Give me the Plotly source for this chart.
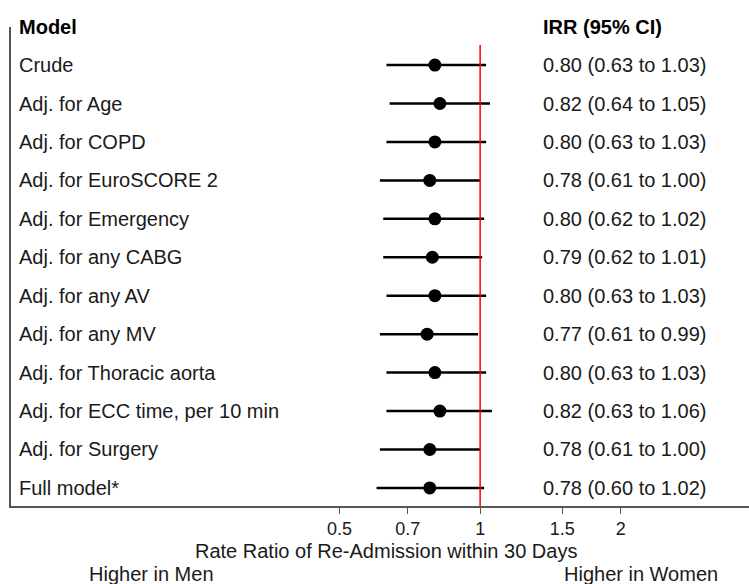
import plotly.graph_objects as go

models = ["Crude", "Adj. for Age", "Adj. for COPD", "Adj. for EuroSCORE 2",
          "Adj. for Emergency", "Adj. for any CABG", "Adj. for any AV",
          "Adj. for any MV", "Adj. for Thoracic aorta",
          "Adj. for ECC time, per 10 min", "Adj. for Surgery", "Full model*"]
irr = [0.80, 0.82, 0.80, 0.78, 0.80, 0.79, 0.80, 0.77, 0.80, 0.82, 0.78, 0.78]
lower = [0.63, 0.64, 0.63, 0.61, 0.62, 0.62, 0.63, 0.61, 0.63, 0.63, 0.61, 0.60]
upper = [1.03, 1.05, 1.03, 1.00, 1.02, 1.01, 1.03, 0.99, 1.03, 1.06, 1.00, 1.02]
tick_vals = [0.5, 0.7, 1, 1.5, 2]
tick_text = ["0.5", "0.7", "1", "1.5", "2"]

n = len(models)
ypos = [n - 1 - i for i in range(n)]  # Crude at top, Full model at bottom

FONT = "Liberation Sans, Arial, sans-serif"
TXT = "#1a1a1a"
FS = 20

fig = go.Figure()

# CI lines
lx, ly = [], []
for lo, hi, y in zip(lower, upper, ypos):
    lx += [lo, hi, None]
    ly += [y, y, None]
fig.add_trace(go.Scatter(x=lx, y=ly, mode="lines",
                         line=dict(color="black", width=2.5),
                         hoverinfo="skip", showlegend=False))
# point estimates
fig.add_trace(go.Scatter(x=irr, y=ypos, mode="markers",
                         marker=dict(color="black", size=13),
                         showlegend=False))

# reference line at 1
fig.add_shape(type="line", xref="x", yref="y", x0=1, x1=1, y0=-0.47, y1=11.52,
              line=dict(color="red", width=1.5))

ann = []
for m, v, lo, hi, y in zip(models, irr, lower, upper, ypos):
    ann.append(dict(x=0.008, xref="paper", y=y, yref="y", text=m,
                    showarrow=False, xanchor="left", yanchor="middle",
                    font=dict(size=FS, color=TXT, family=FONT)))
    ann.append(dict(x=0.718, xref="paper", y=y, yref="y",
                    text=f"{v:.2f} ({lo:.2f} to {hi:.2f})",
                    showarrow=False, xanchor="left", yanchor="middle",
                    font=dict(size=FS, color=TXT, family=FONT)))
ann.append(dict(x=0.008, xref="paper", y=1.0, yref="paper", text="<b>Model</b>",
                showarrow=False, xanchor="left", yanchor="middle",
                font=dict(size=FS, color="black", family=FONT)))
ann.append(dict(x=0.718, xref="paper", y=1.0, yref="paper", text="<b>IRR (95% CI)</b>",
                showarrow=False, xanchor="left", yanchor="middle",
                font=dict(size=FS, color="black", family=FONT)))
ann.append(dict(x=0.508, xref="paper", y=-0.094, yref="paper",
                text="Rate Ratio of Re-Admission within 30 Days",
                showarrow=False, xanchor="center", yanchor="middle",
                font=dict(size=FS, color=TXT, family=FONT)))
ann.append(dict(x=0.190, xref="paper", y=-0.141, yref="paper",
                text="Higher in Men",
                showarrow=False, xanchor="center", yanchor="middle",
                font=dict(size=FS, color=TXT, family=FONT)))
ann.append(dict(x=0.853, xref="paper", y=-0.141, yref="paper",
                text="Higher in Women",
                showarrow=False, xanchor="center", yanchor="middle",
                font=dict(size=FS, color=TXT, family=FONT)))

fig.update_layout(
    width=749, height=584,
    margin=dict(l=11, r=0, t=27, b=78),
    paper_bgcolor="white", plot_bgcolor="white",
    annotations=ann,
    xaxis=dict(type="log", range=[-1.005, 0.576], tickvals=tick_vals,
               ticktext=tick_text, ticks="outside", ticklen=6, tickwidth=1.2,
               tickcolor="#555", showline=True, linecolor="#555", linewidth=1.5,
               showgrid=False, zeroline=False,
               tickfont=dict(size=18, color=TXT, family=FONT)),
    yaxis=dict(range=[-0.47, 11.99], showticklabels=False, showgrid=False,
               zeroline=False, showline=True, linecolor="#555", linewidth=1.5,
               ticks=""),
)

fig.write_html("out.html")
